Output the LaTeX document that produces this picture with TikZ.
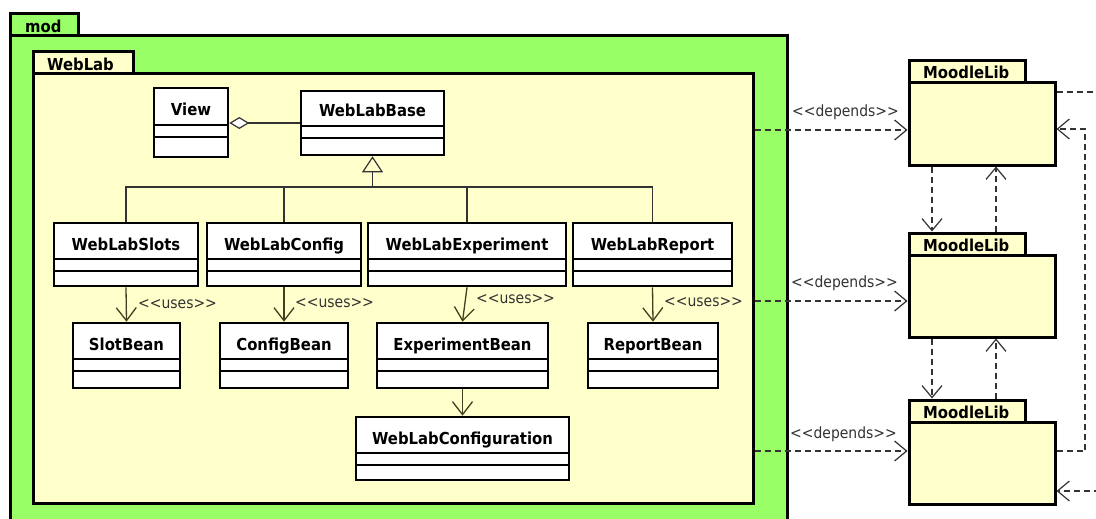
\documentclass[tikz,border=0pt]{standalone}
\usepackage{fontspec}
\setmainfont{DejaVu Sans}
\newfontfamily\umlfont{DejaVu Sans}[FakeStretch=0.9]
\usetikzlibrary{arrows.meta,fit,calc}

\definecolor{pkggreen}{HTML}{99FF66}
\definecolor{pkgyellow}{HTML}{FFFFCC}
\definecolor{linegray}{HTML}{333333}
\definecolor{useolive}{HTML}{404020}

\tikzset{
  pkg/.style={draw=black, line width=3pt, fill=#1, inner sep=0pt},
  classbox/.style={draw=black, line width=2.6pt, fill=white, inner sep=0pt},
  compline/.style={draw=black, line width=1.3pt},
  cname/.style={font=\umlfont\fontsize{16.5}{19}\selectfont\bfseries, inner sep=0pt, anchor=base},
  tabname/.style={font=\umlfont\fontsize{16.5}{19}\selectfont\bfseries, inner sep=0pt, anchor=base west},
  stereo/.style={font=\umlfont\fontsize{15.5}{18}\selectfont, text=linegray, inner sep=0pt, anchor=base west},
  genline/.style={draw=linegray, line width=1.2pt},
  uses/.style={draw=useolive, line width=1.3pt, -{Straight Barb[length=13pt,width=20pt]}},
  depline/.style={draw=linegray, line width=1.2pt, dash pattern=on 6pt off 4pt},
  dep/.style={depline, -{Straight Barb[length=12pt,width=20pt]}},
}

% rectangle node spanning two corners
\newcommand\pkgbox[6]{%
  \coordinate (#1-nw) at (#2,#3);
  \coordinate (#1-se) at (#4,#5);
  \node[pkg=#6, fit=(#1-nw)(#1-se)] (#1) {};
}
% UML class: name, left, top, right, bottom, first compartment line, label
\newcommand\umlclass[7]{%
  \coordinate (#1-nw) at (#2,#3);
  \coordinate (#1-se) at (#4,#5);
  \node[classbox, fit=(#1-nw)(#1-se)] (#1) {};
  \draw[compline] (#2,#6) -- (#4,#6);
  \draw[compline] (#2,{#6+12}) -- (#4,{#6+12});
  \node[cname] (#1-label) at ({(#2+#4)/2},{#6-9}) {#7};
}
% MoodleLib package: name, top of tab
\newcommand\moodlepkg[2]{%
  \pkgbox{#1tab}{909}{#2}{1025}{#2+22}{pkgyellow}
  \pkgbox{#1}{909}{#2+22}{1055}{#2+104}{pkgyellow}
  \node[tabname] (#1tab-label) at (923,{#2+18}) {MoodleLib};
}
\newcommand\stereotxt[1]{<\kern0pt<#1>\kern0pt>}

\begin{document}
\begin{tikzpicture}[x=1pt,y=-1pt]
\useasboundingbox (0,0) rectangle (1096,519);
\clip (0,0) rectangle (1096,519);
\fill[white] (0,0) rectangle (1096,519);

% outer package "mod"
\pkgbox{modtab}{10}{14}{78}{36}{pkggreen}
\pkgbox{mod}{10}{36}{787}{540}{pkggreen}
\node[tabname] (modtab-label) at (25,33) {mod};

% nested package "WebLab"
\pkgbox{weblabtab}{33}{52}{133}{74}{pkgyellow}
\pkgbox{weblab}{33}{74}{753}{503}{pkgyellow}
\node[tabname] (weblabtab-label) at (47,71) {WebLab};

% classes
\umlclass{View}{154}{88}{228}{157}{125}{View}
\umlclass{WebLabBase}{301}{91}{444}{155}{126}{WebLabBase}

\umlclass{WebLabSlots}{54}{223}{198}{286}{259}{WebLabSlots}
\umlclass{WebLabConfig}{207}{223}{361}{286}{259}{WebLabConfig}
\umlclass{WebLabExperiment}{368}{223}{566}{286}{259}{WebLabExperiment}
\umlclass{WebLabReport}{573}{223}{732}{286}{259}{WebLabReport}

\umlclass{SlotBean}{73}{323}{180}{388}{359}{SlotBean}
\umlclass{ConfigBean}{220}{323}{348}{388}{359}{ConfigBean}
\umlclass{ExperimentBean}{377}{323}{548}{388}{359}{ExperimentBean}
\umlclass{ReportBean}{588}{323}{718}{388}{359}{ReportBean}

\umlclass{WebLabConfiguration}{356}{417}{569}{480}{453}{WebLabConfiguration}

% aggregation View <>-- WebLabBase
\coordinate (aggy) at (0,123);
\draw[genline, {Diamond[open, fill=white, length=20pt, width=12pt]}-]
  (View.east |- aggy) -- (WebLabBase.west |- aggy);

% generalization tree
\coordinate (busy) at (0,187);
\coordinate (bus) at (WebLabBase.south |- busy);
\draw[genline, -{Triangle[open, length=16pt, width=21pt]}] (bus) -- (WebLabBase.south);
\draw[genline] (WebLabSlots.north) -- (WebLabSlots.north |- busy)
  -- (WebLabReport.north |- busy) -- (WebLabReport.north);
\draw[genline] (WebLabConfig.north) -- (WebLabConfig.north |- busy);
\draw[genline] (WebLabExperiment.north) -- (WebLabExperiment.north |- busy);

% uses dependencies
\draw[uses] (WebLabSlots.south) -- (SlotBean.north);
\draw[uses] (WebLabConfig.south) -- (ConfigBean.north);
\draw[uses] (WebLabExperiment.south) -- (ExperimentBean.north);
\draw[uses] (WebLabReport.south) -- (ReportBean.north);
\draw[uses] (ExperimentBean.south) -- (WebLabConfiguration.north);

\node[stereo] (uses1) at (138,308) {\stereotxt{uses}};
\node[stereo] (uses2) at (295,307) {\stereotxt{uses}};
\node[stereo] (uses3) at (476,303) {\stereotxt{uses}};
\node[stereo] (uses4) at (664,306) {\stereotxt{uses}};

% MoodleLib packages
\moodlepkg{mlA}{61}
\moodlepkg{mlB}{233}
\moodlepkg{mlC}{400}

% depends arrows
\coordinate (depA) at (0,130);
\coordinate (depB) at (0,301);
\coordinate (depC) at (0,451);
\draw[dep] (weblab.east |- depA) -- (mlA.west |- depA);
\draw[dep] (weblab.east |- depB) -- (mlB.west |- depB);
\draw[dep] (weblab.east |- depC) -- (mlC.west |- depC);
\node[stereo] (depA-label) at (792,117) {\stereotxt{depends}};
\node[stereo] (depB-label) at (791,287) {\stereotxt{depends}};
\node[stereo] (depC-label) at (790,438) {\stereotxt{depends}};

% dependencies between the MoodleLib packages
\coordinate (vdown) at (932,0);
\coordinate (vup) at (996,0);
\draw[dep] (mlA.south -| vdown) -- (mlBtab.north -| vdown);
\draw[dep] (mlBtab.north -| vup) -- (mlA.south -| vup);
\draw[dep] (mlB.south -| vdown) -- (mlCtab.north -| vdown);
\draw[dep] (mlCtab.north -| vup) -- (mlB.south -| vup);

% loops on the right
\coordinate (loopA) at (1085,451);
\coordinate (loopB) at (1085,129);
\draw[dep] (mlC.east |- loopA) -- (loopA) -- (loopB) -- (mlA.east |- loopB);
\coordinate (outTop) at (1120,92);
\coordinate (outBot) at (1120,491);
\draw[depline] (mlA.east |- outTop) -- (outTop);
\draw[dep] (outBot) -- (mlC.east |- outBot);
\end{tikzpicture}
\end{document}
